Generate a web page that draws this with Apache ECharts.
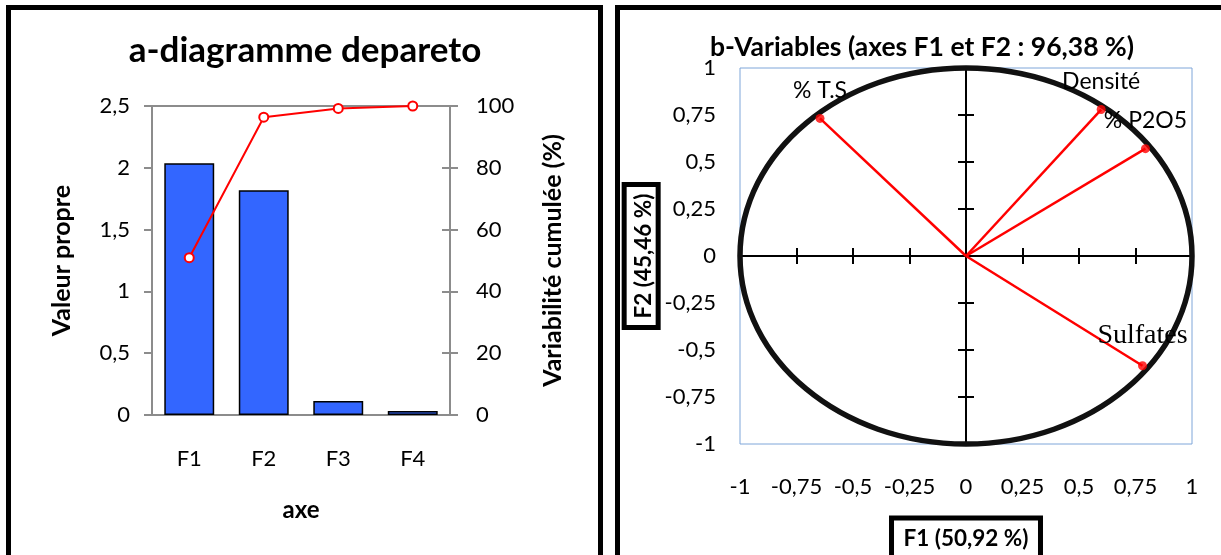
<!DOCTYPE html>
<html>
<head>
    <meta charset="utf-8">
    <title>ECharts</title>
    <script src="https://cdn.jsdelivr.net/npm/echarts@6/dist/echarts.min.js"></script>
    <style>
        html, body { margin: 0; padding: 0; background: #fff; }
    </style>
</head>
<body>
<div id="main" style="width: 1221px;height:555px;"></div>
<script type="text/javascript">
    // a - diagramme de Pareto
    var axes = ['F1', 'F2', 'F3', 'F4'];
    var valeurPropre = [2.037, 1.818, 0.113, 0.032];
    var variabiliteCumulee = [50.92, 96.38, 99.21, 100];

    // b - cercle des corrélations
    var variables = ['% T.S', 'Densité', '% P2O5', 'Sulfates'];
    var coordF1 = [-0.646, 0.598, 0.794, 0.781];
    var coordF2 = [0.732, 0.779, 0.571, -0.584];
    var rayonCercle = [1];

    var FONT = 'Lato, "Open Sans", sans-serif';
    var gris = '#8c8c8c';

    function virgule(v) { return String(v).replace('.', ','); }

    var myChart = echarts.init(document.getElementById('main'));

    var pointsVar = variables.map(function (nom, i) {
        var item = { name: nom, value: [coordF1[i], coordF2[i]] };
        if (nom === 'Sulfates') {
            item.label = { fontFamily: '"Liberation Serif", "Times New Roman", serif', fontSize: 28 };
        }
        return item;
    });
    var vecteurs = variables.map(function (nom, i) { return [coordF1[i], coordF2[i]]; });

    var tickNoir = { show: true, length: 8, lineStyle: { color: '#000', width: 2 } };

    myChart.setOption({
        animation: false,
        textStyle: { fontFamily: FONT },
        graphic: [
            { type: 'rect', shape: { x: 8.5, y: 7.5, width: 592, height: 620 }, style: { fill: 'none', stroke: '#000', lineWidth: 5 } },
            { type: 'rect', shape: { x: 617.5, y: 7.5, width: 640, height: 620 }, style: { fill: 'none', stroke: '#000', lineWidth: 5 } },
            { type: 'text', x: 305, y: 51, style: { text: 'a-diagramme depareto', font: 'bold 35px ' + FONT, fill: '#000', align: 'center', verticalAlign: 'middle' } },
            { type: 'text', x: 922, y: 47, style: { text: 'b-Variables (axes F1 et F2 : 96,38 %)', font: 'bold 26.5px ' + FONT, fill: '#000', align: 'center', verticalAlign: 'middle' } }
        ],
        grid: [
            { left: 152, top: 106, width: 298, height: 309, show: true, borderColor: gris, borderWidth: 2, outerBoundsMode: 'none' },
            { left: 740, top: 68, width: 452, height: 376, show: true, borderColor: '#7fa6d9', borderWidth: 1, outerBoundsMode: 'none' }
        ],
        xAxis: [
            {
                type: 'category', gridIndex: 0, data: axes,
                axisLine: { lineStyle: { color: gris, width: 2 } },
                axisTick: { length: 8, lineStyle: { color: gris, width: 2 } },
                axisLabel: { fontSize: 22, color: '#000', margin: 33 },
                name: 'axe', nameLocation: 'middle', nameGap: 83,
                nameTextStyle: { fontSize: 24, fontWeight: 'bold', color: '#000' }
            },
            {
                type: 'value', gridIndex: 1, min: -1, max: 1, interval: 0.25, position: 'bottom',
                axisLine: { show: false, onZero: false }, axisTick: { show: false }, splitLine: { show: false },
                axisLabel: { fontSize: 22, color: '#000', margin: 32, formatter: virgule },
                name: 'F1 (50,92 %)', nameLocation: 'middle', nameGap: 74,
                nameTextStyle: {
                    fontSize: 22.5, fontWeight: 'bold', color: '#000',
                    borderColor: '#000', borderWidth: 5, padding: [9, 12, 14, 12]
                }
            },
            {
                type: 'value', gridIndex: 1, min: -1, max: 1, interval: 0.25, position: 'bottom',
                axisLine: { onZero: true, lineStyle: { color: '#000', width: 2 } },
                axisTick: tickNoir, axisLabel: { show: false }, splitLine: { show: false }
            },
            {
                type: 'value', gridIndex: 1, min: -1, max: 1, interval: 0.25, position: 'top',
                axisLine: { onZero: true, lineStyle: { color: '#000', width: 2 } },
                axisTick: tickNoir, axisLabel: { show: false }, splitLine: { show: false }
            }
        ],
        yAxis: [
            {
                type: 'value', gridIndex: 0, min: 0, max: 2.5, interval: 0.5, position: 'left',
                axisLine: { show: true, lineStyle: { color: gris, width: 2 } },
                axisTick: { show: true, length: 8, lineStyle: { color: gris, width: 2 } },
                splitLine: { show: false },
                axisLabel: { fontSize: 22, color: '#000', margin: 22, formatter: virgule },
                name: 'Valeur propre', nameLocation: 'middle', nameGap: 78, nameRotate: 90,
                nameTextStyle: { fontSize: 25, fontWeight: 'bold', color: '#000' }
            },
            {
                type: 'value', gridIndex: 0, min: 0, max: 100, interval: 20, position: 'right',
                axisLine: { show: true, lineStyle: { color: gris, width: 2 } },
                axisTick: { show: true, length: 8, lineStyle: { color: gris, width: 2 } },
                splitLine: { show: false },
                axisLabel: { fontSize: 22, color: '#000', margin: 26 },
                name: 'Variabilité cumulée (%)', nameLocation: 'middle', nameGap: 90, nameRotate: 90,
                nameTextStyle: { fontSize: 25, fontWeight: 'bold', color: '#000' }
            },
            {
                type: 'value', gridIndex: 0, min: 0, max: 100, interval: 20, position: 'right',
                axisLine: { show: false },
                axisTick: { show: true, inside: true, length: 8, lineStyle: { color: gris, width: 2 } },
                axisLabel: { show: false }, splitLine: { show: false }
            },
            {
                type: 'value', gridIndex: 1, min: -1, max: 1, interval: 0.25, position: 'left',
                axisLine: { show: false, onZero: false }, axisTick: { show: false }, splitLine: { show: false },
                axisLabel: { fontSize: 22, color: '#000', margin: 24, formatter: virgule },
                name: 'F2 (45,46 %)', nameLocation: 'middle', nameGap: 80, nameRotate: 90,
                nameTextStyle: {
                    fontSize: 22.5, fontWeight: 'bold', color: '#000',
                    borderColor: '#000', borderWidth: 5, padding: [8, 9, 3, 9]
                }
            },
            {
                type: 'value', gridIndex: 1, min: -1, max: 1, interval: 0.25, position: 'left',
                axisLine: { onZero: true, lineStyle: { color: '#000', width: 2 } },
                axisTick: tickNoir, axisLabel: { show: false }, splitLine: { show: false }
            },
            {
                type: 'value', gridIndex: 1, min: -1, max: 1, interval: 0.25, position: 'right',
                axisLine: { onZero: true, lineStyle: { color: '#000', width: 2 } },
                axisTick: tickNoir, axisLabel: { show: false }, splitLine: { show: false }
            }
        ],
        series: [
            {
                name: 'Valeur propre', type: 'bar', xAxisIndex: 0, yAxisIndex: 0,
                data: valeurPropre, barWidth: '67%',
                itemStyle: { color: '#3366ff', borderColor: '#000', borderWidth: 1.5 }
            },
            {
                name: 'Variabilité cumulée', type: 'line', xAxisIndex: 0, yAxisIndex: 1,
                data: variabiliteCumulee, symbol: 'circle', symbolSize: 9,
                lineStyle: { color: '#ff0000', width: 2 },
                itemStyle: { color: '#fff', borderColor: '#ff0000', borderWidth: 2 }
            },
            {
                // cercle des corrélations (rayon 1)
                type: 'custom', xAxisIndex: 1, yAxisIndex: 3, silent: true,
                data: rayonCercle.map(function (r) { return [0, 0, r]; }),
                renderItem: function (params, api) {
                    var c = api.coord([api.value(0), api.value(1)]);
                    var s = api.size([api.value(2), api.value(2)]);
                    return {
                        type: 'ellipse',
                        shape: { cx: c[0], cy: c[1], rx: s[0], ry: s[1] },
                        style: { fill: 'none', stroke: '#111', lineWidth: 5.5 }
                    };
                }
            },
            {
                type: 'custom', xAxisIndex: 1, yAxisIndex: 3, silent: true,
                data: vecteurs,
                renderItem: function (params, api) {
                    var o = api.coord([0, 0]);
                    var p = api.coord([api.value(0), api.value(1)]);
                    return {
                        type: 'line',
                        shape: { x1: o[0], y1: o[1], x2: p[0], y2: p[1] },
                        style: { stroke: '#ff0000', lineWidth: 2.5 }
                    };
                }
            },
            {
                type: 'scatter', xAxisIndex: 1, yAxisIndex: 3,
                data: pointsVar, symbol: 'circle', symbolSize: 9,
                itemStyle: { color: '#ff0000' },
                label: {
                    show: true, position: 'top', distance: 12, formatter: '{b}',
                    fontSize: 23, color: '#000', fontFamily: FONT,
                    textBorderWidth: 0, opacity: 1
                }
            }
        ]
    });
</script>
</body>
</html>
